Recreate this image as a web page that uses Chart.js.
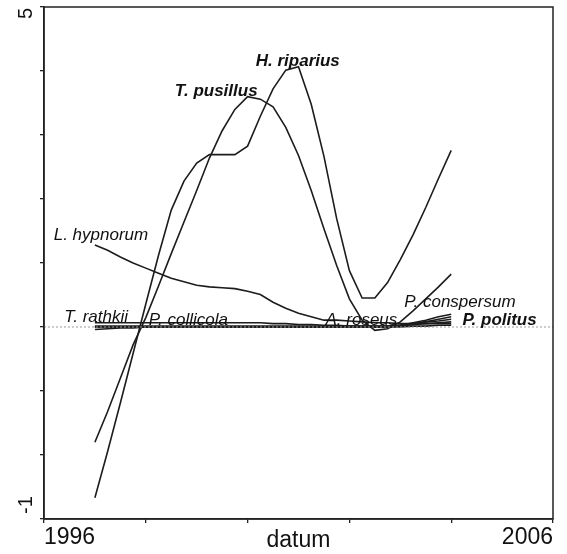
<!DOCTYPE html>
<html>
<head>
<meta charset="utf-8">
<script src="https://cdn.jsdelivr.net/npm/chart.js@4.4.0/dist/chart.umd.min.js"></script>
<style>
html, body { margin: 0; padding: 0; background: #fff; }
canvas { display: block; }
</style>
</head>
<body>
<canvas id="myChart" width="567" height="554"></canvas>
<script>
// sample dates (years), shared by all response curves
var years = [1997, 1997.25, 1997.5, 1997.75,
             1998, 1998.25, 1998.5, 1998.75,
             1999, 1999.25, 1999.5, 1999.75,
             2000, 2000.25, 2000.5, 2000.75,
             2001, 2001.25, 2001.5, 2001.75,
             2002, 2002.25, 2002.5, 2002.75,
             2003, 2003.25, 2003.5, 2003.75,
             2004];

var hRiparius = [-0.75, -0.21, 0.36, 0.94,
                 1.52, 2.09, 2.62, 2.96,
                 3.17, 3.27, 3.27, 3.27,
                 3.37, 3.72, 4.04, 4.26,
                 4.30, 3.86, 3.25, 2.52,
                 1.91, 1.59, 1.59, 1.77,
                 2.04, 2.33, 2.65, 2.99,
                 3.32];
var tPusillus = [-0.10, 0.26, 0.65, 1.04,
                 1.36, 1.73, 2.11, 2.48,
                 2.85, 3.23, 3.55, 3.80,
                 3.95, 3.92, 3.83, 3.59,
                 3.26, 2.85, 2.40, 1.97,
                 1.58, 1.33, 1.21, 1.23,
                 1.31, 1.44, 1.58, 1.72,
                 1.87];
var lHypnorum = [2.21, 2.15, 2.07, 2.00,
                 1.94, 1.88, 1.82, 1.78,
                 1.74, 1.72, 1.71, 1.70,
                 1.67, 1.63, 1.54, 1.47,
                 1.41, 1.37, 1.33, 1.33,
                 1.32, 1.31, 1.30, 1.30,
                 1.29, 1.29, 1.29, 1.29,
                 1.29];
var tRathkii = [1.22, 1.23, 1.24, 1.24,
                1.25, 1.25, 1.25, 1.25,
                1.25, 1.25, 1.25, 1.25,
                1.25, 1.25, 1.25, 1.25,
                1.25, 1.25, 1.25, 1.25,
                1.25, 1.25, 1.25, 1.25,
                1.25, 1.26, 1.26, 1.27,
                1.27];
var pCollicola = [1.30, 1.30, 1.30, 1.30,
                  1.30, 1.30, 1.30, 1.30,
                  1.30, 1.30, 1.30, 1.30,
                  1.30, 1.30, 1.29, 1.29,
                  1.28, 1.28, 1.27, 1.27,
                  1.26, 1.26, 1.26, 1.26,
                  1.27, 1.28, 1.29, 1.30,
                  1.31];
var aRoseus = [1.26, 1.26, 1.26, 1.26,
               1.26, 1.26, 1.26, 1.26,
               1.26, 1.26, 1.26, 1.26,
               1.26, 1.26, 1.26, 1.26,
               1.26, 1.26, 1.26, 1.26,
               1.26, 1.26, 1.26, 1.26,
               1.27, 1.29, 1.31, 1.32,
               1.34];
var pConspersum = [1.25, 1.25, 1.25, 1.25,
                   1.25, 1.25, 1.25, 1.25,
                   1.25, 1.25, 1.25, 1.25,
                   1.25, 1.25, 1.25, 1.25,
                   1.25, 1.25, 1.25, 1.25,
                   1.25, 1.25, 1.25, 1.25,
                   1.27, 1.30, 1.33, 1.37,
                   1.40];
var pPolitus = [1.25, 1.25, 1.25, 1.25,
                1.25, 1.25, 1.25, 1.25,
                1.25, 1.25, 1.25, 1.25,
                1.25, 1.25, 1.25, 1.25,
                1.25, 1.25, 1.25, 1.25,
                1.25, 1.25, 1.25, 1.25,
                1.26, 1.28, 1.31, 1.34,
                1.37];

// dotted reference line
var baseline = 1.25;
var xRange = [1996, 2006];
var yRange = [-1, 5];
var xTickLabels = ['1996', '2006'];
var yTickLabels = ['5', '-1'];

// species names placed next to their curves: [name, year, value, bold]
var speciesLabels = [
    ['T. pusillus', 1998.57, 3.96, true],
    ['H. riparius', 2000.16, 4.31, true],
    ['L. hypnorum', 1996.19, 2.27, false],
    ['T. rathkii', 1996.40, 1.31, false],
    ['P. collicola', 1998.06, 1.27, false],
    ['A. roseus', 2001.53, 1.27, false],
    ['P. conspersum', 2003.08, 1.48, false],
    ['P. politus', 2004.22, 1.27, true]
];

var lineColor = '#1c1c1c';
var fontName = '"Liberation Sans", Arial, sans-serif';

function points(vals) {
    return years.map(function (yr, i) { return {x: yr, y: vals[i]}; });
}

function curve(name, vals) {
    return {
        label: name,
        data: points(vals),
        borderColor: lineColor,
        borderWidth: 1.6,
        pointRadius: 0,
        tension: 0,
        fill: false
    };
}

var labelPlugin = {
    id: 'labels',
    afterDatasetsDraw: function (chart) {
        var ctx = chart.ctx;
        var xs = chart.scales.x, ys = chart.scales.y;
        var a = chart.chartArea;
        ctx.save();
        ctx.fillStyle = '#111';
        ctx.textBaseline = 'alphabetic';
        ctx.textAlign = 'left';
        speciesLabels.forEach(function (l) {
            ctx.font = 'italic ' + (l[3] ? 'bold ' : '') + '17px ' + fontName;
            ctx.fillText(l[0], xs.getPixelForValue(l[1]), ys.getPixelForValue(l[2]));
        });
        // plot frame
        ctx.strokeStyle = '#222';
        ctx.lineWidth = 1.5;
        ctx.strokeRect(a.left, a.top, a.right - a.left, a.bottom - a.top);
        // axis title, same row as the tick labels
        ctx.font = '23px ' + fontName;
        ctx.textAlign = 'center';
        ctx.fillText('datum', (a.left + a.right) / 2, 547);
        // y labels, rotated
        ctx.font = '20px ' + fontName;
        ctx.save();
        ctx.translate(32, ys.getPixelForValue(yRange[1]) + 1);
        ctx.rotate(-Math.PI / 2);
        ctx.textAlign = 'right';
        ctx.fillText(yTickLabels[0], 0, 0);
        ctx.restore();
        ctx.save();
        ctx.translate(32, ys.getPixelForValue(yRange[0]) - 5);
        ctx.rotate(-Math.PI / 2);
        ctx.textAlign = 'left';
        ctx.fillText(yTickLabels[1], 0, 0);
        ctx.restore();
        ctx.restore();
    }
};

window.onload = function () {
    var ctx = document.getElementById('myChart').getContext('2d');
    var datasets = [
        {
            label: 'baseline',
            data: [{x: xRange[0], y: baseline}, {x: xRange[1], y: baseline}],
            borderColor: '#9a9a9a',
            borderWidth: 1.2,
            borderDash: [2, 2],
            pointRadius: 0
        },
        curve('T. rathkii', tRathkii),
        curve('P. collicola', pCollicola),
        curve('A. roseus', aRoseus),
        curve('P. conspersum', pConspersum),
        curve('P. politus', pPolitus),
        curve('L. hypnorum', lHypnorum),
        curve('T. pusillus', tPusillus),
        curve('H. riparius', hRiparius)
    ];

    new Chart(ctx, {
        type: 'line',
        data: {datasets: datasets},
        options: {
            responsive: false,
            animation: false,
            devicePixelRatio: 1,
            layout: {padding: {top: 7, right: 14, left: 0, bottom: 0}},
            plugins: {legend: {display: false}, tooltip: {enabled: false}},
            scales: {
                x: {
                    type: 'linear',
                    min: xRange[0],
                    max: xRange[1],
                    afterFit: function (s) { s.height = 35; },
                    ticks: {
                        stepSize: 2,
                        autoSkip: false,
                        maxRotation: 0,
                        align: 'inner',
                        padding: 1,
                        color: '#111',
                        font: {family: fontName, size: 23},
                        callback: function (v) {
                            if (v === xRange[0]) return xTickLabels[0];
                            if (v === xRange[1]) return xTickLabels[1];
                            return '';
                        }
                    },
                    grid: {drawOnChartArea: false, drawTicks: true, tickLength: 4, color: '#222', lineWidth: 1.3},
                    border: {display: true, color: '#222', width: 1.5}
                },
                y: {
                    type: 'linear',
                    min: yRange[0],
                    max: yRange[1],
                    afterFit: function (s) { s.width = 44; },
                    ticks: {stepSize: 0.75, display: false},
                    grid: {drawOnChartArea: false, drawTicks: true, tickLength: 4, color: '#222', lineWidth: 1.3},
                    border: {display: true, color: '#222', width: 1.5}
                }
            }
        },
        plugins: [labelPlugin]
    });
};
</script>
</body>
</html>
